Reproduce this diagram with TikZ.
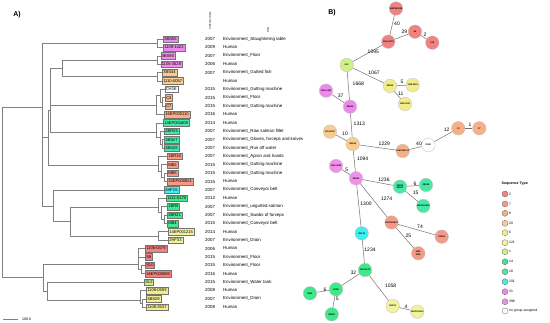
\documentclass[tikz,border=0pt]{standalone}
\usepackage{fontspec}
\setmainfont{Liberation Sans}
\definecolor{cTwo}{HTML}{F08282}
\definecolor{cSeven}{HTML}{F59A86}
\definecolor{cEight}{HTML}{F7B086}
\definecolor{cTwenty}{HTML}{F8CC8E}
\definecolor{cSix}{HTML}{F2EC8C}
\definecolor{cOTO}{HTML}{F2F29E}
\definecolor{cOne}{HTML}{CFF088}
\definecolor{cFourteen}{HTML}{40E88C}
\definecolor{cEighteen}{HTML}{46E8A6}
\definecolor{cOOO}{HTML}{40EEEE}
\definecolor{cThirtyOne}{HTML}{EE88EE}
\definecolor{cTNE}{HTML}{F090EA}
\begin{document}
\begin{tikzpicture}[x=1pt,y=-1pt,
 br/.style={draw=black!50, line width=0.5pt},
 leaf/.style={draw=black!55, line width=0.3pt, anchor=west, inner xsep=1.1pt, inner ysep=0.5pt, minimum height=6.6pt, font=\fontsize{4.1}{4.1}\selectfont},
 col/.style={anchor=west, inner sep=0pt, font=\fontsize{4.4}{4.4}\selectfont},
 hdr/.style={inner sep=0pt, rotate=90, font=\fontsize{2.6}{2.6}\selectfont},
 st/.style={circle, draw=black!25, line width=0.3pt, minimum size=13.5pt, inner sep=0pt, align=center, font=\fontsize{2.2}{2.4}\selectfont\bfseries},
 el/.style={inner sep=0pt, font=\fontsize{5}{5}\selectfont},
 edge/.style={draw=black!55, line width=0.5pt},
 lg/.style={circle, draw=black!60, line width=0.3pt, minimum size=6pt, inner sep=0pt},
 lgt/.style={anchor=west, inner sep=0pt, font=\fontsize{3.4}{3.4}\selectfont},
 panel/.style={inner sep=0pt, font=\fontsize{7}{7}\selectfont\bfseries}
]
\fill[white] (0,0) rectangle (550,323);
\useasboundingbox (0,0) rectangle (550,323);

% ---------------- Panel A ----------------
\node[panel] (PA) at (17,15) {A)};
\node[hdr] (HD1) at (210,21) {Collection Date};
\node[hdr] (HD2) at (268,30) {Host};

\node[leaf, fill=cThirtyOne] (L1) at (163,39.0) {3BS55};
\node[leaf, fill=cThirtyOne] (L2) at (163,47.4) {1109-1422};
\node[leaf, fill=cTNE] (L3) at (160.5,55.8) {3BS90};
\node[leaf, fill=cTNE] (L4) at (160.5,64.1) {1106-3628};
\node[leaf, fill=cTwenty] (L5) at (162,72.5) {3BS44};
\node[leaf, fill=cTwenty] (L6) at (162,80.9) {1110-0057};
\node[leaf, fill=white] (L7) at (164.5,89.3) {CH3K};
\node[leaf, fill=cEight] (L8) at (165,97.7) {C3};
\node[leaf, fill=cEight] (L9) at (165,106.0) {C7};
\node[leaf, fill=cEight] (L10) at (164,114.4) {16EP000110};
\node[leaf, fill=cEighteen] (L11) at (163,122.8) {14EP001609};
\node[leaf, fill=cEighteen] (L12) at (164,131.2) {2BR25};
\node[leaf, fill=cEighteen] (L13) at (164,139.6) {3BS27};
\node[leaf, fill=cEighteen] (L14) at (164,147.9) {3BS28};
\node[leaf, fill=cSeven] (L15) at (167,156.3) {1BR16};
\node[leaf, fill=cSeven] (L16) at (167,164.7) {MB2};
\node[leaf, fill=cSeven] (L17) at (167,173.1) {MB5};
\node[leaf, fill=cSeven] (L18) at (167,181.5) {15EP000821};
\node[leaf, fill=cOOO] (L19) at (164,189.8) {2HF15};
\node[leaf, fill=cFourteen] (L20) at (166,198.2) {1112-0170};
\node[leaf, fill=cFourteen] (L21) at (167,206.6) {1BR5};
\node[leaf, fill=cFourteen] (L22) at (167,215.0) {2BR21};
\node[leaf, fill=cFourteen] (L23) at (167,223.4) {MB4};
\node[leaf, fill=cOTO] (L24) at (168,231.7) {14EP001215};
\node[leaf, fill=cOTO] (L25) at (168,240.1) {2HF33};
\node[leaf, fill=cTwo] (L26) at (145,248.5) {1106-0479};
\node[leaf, fill=cTwo] (L27) at (145,256.9) {S8};
\node[leaf, fill=cTwo] (L28) at (145,265.3) {S10};
\node[leaf, fill=cTwo] (L29) at (145,273.7) {16EP000085};
\node[leaf, fill=cOne] (L30) at (144,282.0) {S12};
\node[leaf, fill=cSix] (L31) at (146,290.4) {1108-0593};
\node[leaf, fill=cSix] (L32) at (146,298.8) {3BS29};
\node[leaf, fill=cSix] (L33) at (146,307.2) {1108-3537};

% years and hosts
\node[col] (Y1) at (205,39.0) {2007}; \node[col] (H1) at (223,39.0) {Environment\_Slaughtering table};
\node[col] (Y2) at (205,47.4) {2009}; \node[col] (H2) at (223,47.4) {Human};
\node[col] (Y3) at (205,55.8) {2007}; \node[col] (H3) at (223,55.8) {Environment\_Floor};
\node[col] (Y4) at (205,64.1) {2006}; \node[col] (H4) at (223,64.1) {Human};
\node[col] (Y5) at (205,72.5) {2007}; \node[col] (H5) at (223,72.5) {Environment\_Gutted fish};
\node[col] (H6) at (223,80.9) {Human};
\node[col] (Y7) at (205,89.3) {2015}; \node[col] (H7) at (223,89.3) {Environment\_Gutting machine};
\node[col] (Y8) at (205,97.7) {2015}; \node[col] (H8) at (223,97.7) {Environment\_Floor};
\node[col] (Y9) at (205,106.0) {2015}; \node[col] (H9) at (223,106.0) {Environment\_Gutting machine};
\node[col] (Y10) at (205,114.4) {2016}; \node[col] (H10) at (223,114.4) {Human};
\node[col] (Y11) at (205,122.8) {2014}; \node[col] (H11) at (223,122.8) {Human};
\node[col] (Y12) at (205,131.2) {2007}; \node[col] (H12) at (223,131.2) {Environment\_Raw salmon fillet};
\node[col] (Y13) at (205,139.6) {2007}; \node[col] (H13) at (223,139.6) {Environment\_Gloves, forceps and knives};
\node[col] (Y14) at (205,147.9) {2007}; \node[col] (H14) at (223,147.9) {Environment\_Run off water};
\node[col] (Y15) at (205,156.3) {2007}; \node[col] (H15) at (223,156.3) {Environment\_Apron and hands};
\node[col] (Y16) at (205,164.7) {2015}; \node[col] (H16) at (223,164.7) {Environment\_Gutting machine};
\node[col] (Y17) at (205,173.1) {2015}; \node[col] (H17) at (223,173.1) {Environment\_Gutting machine};
\node[col] (Y18) at (205,181.5) {2015}; \node[col] (H18) at (223,181.5) {Human};
\node[col] (Y19) at (205,189.8) {2007}; \node[col] (H19) at (223,189.8) {Environment\_Conveyor belt};
\node[col] (Y20) at (205,198.2) {2012}; \node[col] (H20) at (223,198.2) {Human};
\node[col] (Y21) at (205,206.6) {2007}; \node[col] (H21) at (223,206.6) {Environment\_ungutted salmon};
\node[col] (Y22) at (205,215.0) {2007}; \node[col] (H22) at (223,215.0) {Environment\_Swabs of forceps};
\node[col] (Y23) at (205,223.4) {2015}; \node[col] (H23) at (223,223.4) {Environment\_Conveyor belt};
\node[col] (Y24) at (205,231.7) {2014}; \node[col] (H24) at (223,231.7) {Human};
\node[col] (Y25) at (205,240.1) {2007}; \node[col] (H25) at (223,240.1) {Environment\_Drain};
\node[col] (Y26) at (205,248.5) {2006}; \node[col] (H26) at (223,248.5) {Human};
\node[col] (Y27) at (205,256.9) {2015}; \node[col] (H27) at (223,256.9) {Environment\_Floor};
\node[col] (Y28) at (205,265.3) {2015}; \node[col] (H28) at (223,265.3) {Environment\_Floor};
\node[col] (Y29) at (205,273.7) {2016}; \node[col] (H29) at (223,273.7) {Human};
\node[col] (Y30) at (205,282.0) {2015}; \node[col] (H30) at (223,282.0) {Environment\_Water tank};
\node[col] (Y31) at (205,290.4) {2008}; \node[col] (H31) at (223,290.4) {Human};
\node[col] (Y32) at (205,298.8) {2007}; \node[col] (H32) at (223,298.8) {Environment\_Drain};
\node[col] (Y33) at (205,307.2) {2008}; \node[col] (H33) at (223,307.2) {Human};

% internal nodes of the dendrogram
\coordinate (ka) at (157,43.2);
\coordinate (kb) at (157.5,60);
\coordinate (kc) at (157.5,76.7);
\coordinate (kbc) at (62,68.3);
\coordinate (kd2) at (162.5,101.8);
\coordinate (kd1) at (160.5,95);
\coordinate (kd) at (156.5,105);
\coordinate (ke2) at (162,143.8);
\coordinate (ke1) at (160,137.5);
\coordinate (ke) at (156,132.3);
\coordinate (kf2) at (164,177.3);
\coordinate (kf1) at (161.7,171);
\coordinate (kf) at (158,165);
\coordinate (kv2) at (50,110);
\coordinate (kv3) at (48.3,137.5);
\coordinate (kh2) at (164,219.2);
\coordinate (kh1) at (161.7,212);
\coordinate (kh) at (158,207.3);
\coordinate (ki) at (158,236);
\coordinate (khi) at (70,221.7);
\coordinate (kg) at (53.3,206);
\coordinate (kv1) at (42.5,107);
\coordinate (kj2) at (141,269.5);
\coordinate (kj) at (138,264);
\coordinate (km1) at (142,303);
\coordinate (km) at (140,300);
\coordinate (kkm) at (47,291.7);
\coordinate (kbot) at (43.3,277);
\coordinate (kroot) at (2.7,192);

\draw[br] (ka) |- (L1.west); \draw[br] (ka) |- (L2.west);
\draw[br] (kb) |- (L3.west); \draw[br] (kb) |- (L4.west);
\draw[br] (kc) |- (L5.west); \draw[br] (kc) |- (L6.west);
\draw[br] (kbc) |- (kb); \draw[br] (kbc) |- (kc);
\draw[br] (kd2) |- (L8.west); \draw[br] (kd2) |- (L9.west);
\draw[br] (kd1) |- (L7.west); \draw[br] (kd1) |- (kd2);
\draw[br] (kd) |- (kd1); \draw[br] (kd) |- (L10.west);
\draw[br] (ke2) |- (L13.west); \draw[br] (ke2) |- (L14.west);
\draw[br] (ke1) |- (L12.west); \draw[br] (ke1) |- (ke2);
\draw[br] (ke) |- (L11.west); \draw[br] (ke) |- (ke1);
\draw[br] (kf2) |- (L17.west); \draw[br] (kf2) |- (L18.west);
\draw[br] (kf1) |- (L16.west); \draw[br] (kf1) |- (kf2);
\draw[br] (kf) |- (L15.west); \draw[br] (kf) |- (kf1);
\draw[br] (kv2) |- (kbc); \draw[br] (kv2) |- (kd); \draw[br] (kv2) |- (ke);
\draw[br] (kv3) |- (kv2); \draw[br] (kv3) |- (kf);
\draw[br] (kh2) |- (L22.west); \draw[br] (kh2) |- (L23.west);
\draw[br] (kh1) |- (L21.west); \draw[br] (kh1) |- (kh2);
\draw[br] (kh) |- (L20.west); \draw[br] (kh) |- (kh1);
\draw[br] (ki) |- (L24.west); \draw[br] (ki) |- (L25.west);
\draw[br] (khi) |- (kh); \draw[br] (khi) |- (ki);
\draw[br] (kg) |- (L19.west); \draw[br] (kg) |- (khi);
\draw[br] (kv1) |- (ka); \draw[br] (kv1) |- (kv3); \draw[br] (kv1) |- (kg);
\draw[br] (kj2) |- (L28.west); \draw[br] (kj2) |- (L29.west);
\draw[br] (kj) |- (L26.west); \draw[br] (kj) |- (L27.west); \draw[br] (kj) |- (kj2);
\draw[br] (km1) |- (L32.west); \draw[br] (km1) |- (L33.west);
\draw[br] (km) |- (L31.west); \draw[br] (km) |- (km1);
\draw[br] (kkm) |- (L30.west); \draw[br] (kkm) |- (km);
\draw[br] (kbot) |- (kj); \draw[br] (kbot) |- (kkm);
\draw[br] (kroot) |- (kv1); \draw[br] (kroot) |- (kbot);

% scale bar
\coordinate (sb1) at (3.3,319.3);
\coordinate (sb2) at (18.3,319.3);
\draw[br] (sb1) -- (sb2);
\node[col, font=\fontsize{3.6}{3.6}\selectfont] (SBT) at (22,319.3) {100.0};

% ---------------- Panel B ----------------
\node[panel] (PB) at (332,13) {B)};

\node[st, fill=cTwo] (M85) at (396,8.5) {16EP000085};
\node[st, fill=cTwo] (M0479) at (388.3,41.7) {1106-0479};
\node[st, fill=cTwo] (MS8) at (415,31.7) {S8};
\node[st, fill=cTwo] (MS10) at (432.3,42.7) {S10};
\node[st, fill=cOne] (MS12) at (346.7,65) {S12};
\node[st, fill=cSix] (M3BS29) at (390,86) {3BS29};
\node[st, fill=cSix] (M0593) at (412.7,85) {1108-0593};
\node[st, fill=cSix] (M3537) at (405,104) {1108-3537};
\node[st, fill=cThirtyOne] (M1422) at (326,90.7) {1109-1422};
\node[st, fill=cThirtyOne] (M3BS55) at (350,106.7) {3BS55};
\node[st, fill=cTwenty] (M0057) at (330,131.7) {1110-0057};
\node[st, fill=cTwenty] (M3BS44) at (352.7,144) {3BS44};
\node[st, fill=cEight] (M0110) at (402.7,151) {16EP000110};
\node[st, fill=white] (MCH3K) at (428.3,145) {CH3K};
\node[st, fill=cEight] (MC3) at (458.3,128.3) {C3};
\node[st, fill=cEight] (MC7) at (479.3,128.3) {C7};
\node[st, fill=cTNE] (M3628) at (336,166) {1106-3628};
\node[st, fill=cTNE] (M3BS90) at (356,178.3) {3BS90};
\node[st, fill=cEighteen] (M2BR25) at (400,186.7) {2BR25\\3BS27};
\node[st, fill=cEighteen] (M3BS28) at (426,185) {3BS28};
\node[st, fill=cEighteen] (M1609) at (423.3,206) {14EP001609};
\node[st, fill=cSeven] (M0821) at (391.5,222.5) {15EP000821};
\node[st, fill=cSeven] (M1BR16) at (441.7,236.7) {1BR16};
\node[st, fill=cSeven] (MMB) at (418.3,253.3) {MB2\\MB5};
\node[st, fill=cOOO] (M2HF15) at (361.7,233.3) {2HF15};
\node[st, fill=cFourteen] (M0170) at (365,270) {1112-0170};
\node[st, fill=cFourteen] (M1BR5) at (336,289.3) {1BR5};
\node[st, fill=cFourteen] (M2BR21) at (331.7,314.3) {2BR21};
\node[st, fill=cFourteen] (MMB4) at (310,293.3) {MB4};
\node[st, fill=cOTO] (M2HF33) at (392.7,306) {2HF33};
\node[st, fill=cOTO] (M1215) at (417.3,311.7) {14EP001215};

\draw[edge] (M85) -- (M0479);
\draw[edge] (M0479) -- (MS8);
\draw[edge] (MS8) -- (MS10);
\draw[edge] (M0479) -- (MS12);
\draw[edge] (MS12) -- (M3BS29);
\draw[edge] (M3BS29) -- (M0593);
\draw[edge] (M3BS29) -- (M3537);
\draw[edge] (MS12) -- (M3BS55);
\draw[edge] (M3BS55) -- (M1422);
\draw[edge] (M3BS55) -- (M3BS44);
\draw[edge] (M3BS44) -- (M0057);
\draw[edge] (M3BS44) -- (M0110);
\draw[edge] (M0110) -- (MCH3K);
\draw[edge] (MCH3K) -- (MC3);
\draw[edge] (MC3) -- (MC7);
\draw[edge] (M3BS44) -- (M3BS90);
\draw[edge] (M3BS90) -- (M3628);
\draw[edge] (M3BS90) -- (M2BR25);
\draw[edge] (M2BR25) -- (M3BS28);
\draw[edge] (M2BR25) -- (M1609);
\draw[edge] (M3BS90) -- (M0821);
\draw[edge] (M0821) -- (M1BR16);
\draw[edge] (M0821) -- (MMB);
\draw[edge] (M3BS90) -- (M2HF15);
\draw[edge] (M2HF15) -- (M0170);
\draw[edge] (M0170) -- (M1BR5);
\draw[edge] (M1BR5) -- (MMB4);
\draw[edge] (M1BR5) -- (M2BR21);
\draw[edge] (M0170) -- (M2HF33);
\draw[edge] (M2HF33) -- (M1215);

% edge labels
\node[el] (E1) at (397,24) {40};
\node[el] (E2) at (404.3,31.7) {29};
\node[el] (E3) at (425,34.3) {2};
\node[el] (E4) at (373.3,51.7) {1095};
\node[el] (E5) at (374,72.7) {1067};
\node[el] (E6) at (402,82) {5};
\node[el] (E7) at (400.7,93.3) {11};
\node[el] (E8) at (358.3,84) {1668};
\node[el] (E9) at (340.7,95.7) {37};
\node[el] (E10) at (359.3,124) {1313};
\node[el] (E11) at (345,134) {10};
\node[el] (E12) at (384.3,144) {1229};
\node[el] (E13) at (419,144) {40};
\node[el] (E14) at (446.7,130) {12};
\node[el] (E15) at (470,125) {1};
\node[el] (E16) at (362.7,158.3) {1094};
\node[el] (E17) at (346.7,170) {5};
\node[el] (E18) at (384,180) {1236};
\node[el] (E19) at (415,183.3) {6};
\node[el] (E20) at (415.7,193.3) {15};
\node[el] (E21) at (386.7,198.3) {1274};
\node[el] (E22) at (366,203.3) {1300};
\node[el] (E23) at (420,226.5) {74};
\node[el] (E24) at (408.3,236) {25};
\node[el] (E25) at (370,250) {1234};
\node[el] (E26) at (353.3,272.3) {32};
\node[el] (E27) at (390.7,286) {1058};
\node[el] (E28) at (325,289.3) {6};
\node[el] (E29) at (337.3,299.3) {5};
\node[el] (E30) at (406,306.7) {4};

% legend
\node[inner sep=0pt, anchor=west, font=\fontsize{3.6}{3.6}\selectfont\bfseries] (LGT) at (501.5,184) {Sequence Type};
\node[lg, fill=cTwo] (G1) at (505,194) {}; \node[lgt] (T1) at (509,194) {2};
\node[lg, fill=cSeven] (G2) at (505,204) {}; \node[lgt] (T2) at (509,204) {7};
\node[lg, fill=cEight] (G3) at (505,213.3) {}; \node[lgt] (T3) at (509,213.3) {8};
\node[lg, fill=cTwenty] (G4) at (505,223.3) {}; \node[lgt] (T4) at (509,223.3) {20};
\node[lg, fill=cSix] (G5) at (505,232.7) {}; \node[lgt] (T5) at (509,232.7) {6};
\node[lg, fill=cOTO] (G6) at (505,242.7) {}; \node[lgt] (T6) at (509,242.7) {121};
\node[lg, fill=cOne] (G7) at (505,251.7) {}; \node[lgt] (T7) at (509,251.7) {1};
\node[lg, fill=cFourteen] (G8) at (505,261.7) {}; \node[lgt] (T8) at (509,261.7) {14};
\node[lg, fill=cEighteen] (G9) at (505,271.7) {}; \node[lgt] (T9) at (509,271.7) {18};
\node[lg, fill=cOOO] (G10) at (505,281.7) {}; \node[lgt] (T10) at (509,281.7) {101};
\node[lg, fill=cThirtyOne] (G11) at (505,291.7) {}; \node[lgt] (T11) at (509,291.7) {31};
\node[lg, fill=cTNE] (G12) at (505,301.7) {}; \node[lgt] (T12) at (509,301.7) {398};
\node[lg, fill=white] (G13) at (505,311) {}; \node[lgt] (T13) at (509,311) {no group assigned};
\end{tikzpicture}
\end{document}
